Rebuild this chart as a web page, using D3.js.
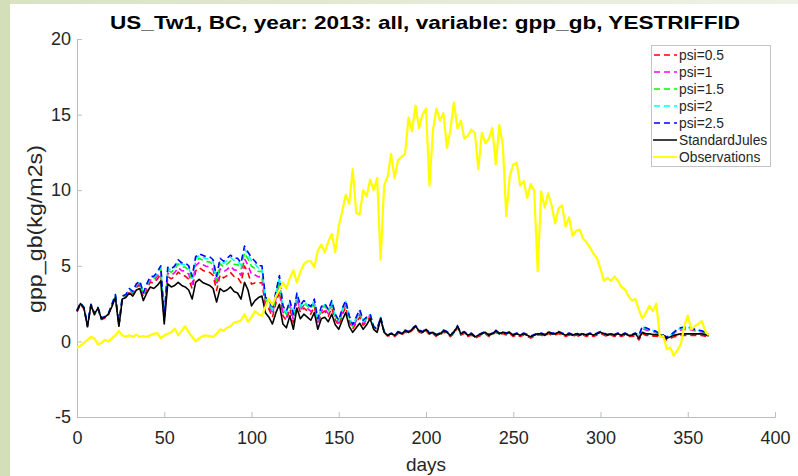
<!DOCTYPE html>
<html>
<head>
<meta charset="utf-8">
<script src="https://cdn.jsdelivr.net/npm/d3@7"></script>
<style>
    body { margin: 0; background: #fff; }
    svg { display: block; font-family: "Liberation Sans", Arial, Helvetica, sans-serif; }
    .tick-label { fill: #262626; font-size: 18px; }
</style>
</head>
<body>
<svg id="chart" width="798" height="476"></svg>
<script>
// day grid, one reading every 2 days
const days = d3.range(0, 363, 2);

const xTicks = [0, 50, 100, 150, 200, 250, 300, 350, 400];
const yTicks = [-5, 0, 5, 10, 15, 20];

const standardJules = [
    2.0, 2.5, 2.2, 1.0, 2.4, 1.8, 2.2, 1.5, 1.6, 1.8,
    2.3, 2.9, 1.0, 2.8, 2.9, 3.2, 3.0, 3.4, 3.5, 2.7,
    3.2, 3.6, 3.5, 3.7, 4.0, 1.15, 3.8, 3.6, 3.7, 3.9,
    3.7, 3.6, 3.4, 2.8, 3.9, 4.1, 3.9, 3.8, 3.7, 3.5,
    2.6, 3.5, 3.3, 3.4, 3.6, 3.3, 3.2, 2.8, 3.9, 3.4,
    2.35, 2.7, 2.9, 3.0, 1.9, 1.6, 1.15, 1.9, 2.45, 1.15,
    0.9, 1.7, 0.8, 2.2, 1.5, 1.8, 1.6, 1.4, 1.9, 0.8,
    1.5, 1.6, 1.3, 1.8, 1.1, 0.8, 1.4, 1.9, 1.0, 0.6,
    0.9, 1.2, 0.8, 1.1, 1.5, 0.8, 0.6, 1.5, 0.6, 0.4,
    0.5, 0.4, 0.6, 0.5, 0.7, 0.6, 0.8, 1.0, 0.7, 0.6,
    0.8, 0.5, 0.6, 0.4, 0.5, 0.7, 0.6, 0.4, 0.6, 1.0,
    0.5, 0.6, 0.4, 0.5, 0.3, 0.4, 0.5, 0.6, 0.4, 0.5,
    0.7, 0.5, 0.6, 0.5, 0.6, 0.4, 0.5, 0.4, 0.5, 0.4,
    0.3, 0.4, 0.5, 0.5, 0.4, 0.6, 0.5, 0.5, 0.6, 0.5,
    0.4, 0.5, 0.4, 0.5, 0.4, 0.5, 0.4, 0.5, 0.4, 0.5,
    0.6, 0.5, 0.4, 0.5, 0.4, 0.5, 0.4, 0.5, 0.4, 0.4,
    0.5, 0.2, 0.6, 0.5, 0.5, 0.45, 0.45, 0.4, 0.4, 0.2,
    0.3, 0.4, 0.45, 0.5, 0.5, 0.5, 0.5, 0.5, 0.5, 0.5,
    0.45, 0.35
];

const psi05 = [
    1.95, 2.45, 2.15, 0.95, 2.35, 1.75, 2.15, 1.45, 1.55, 1.75,
    2.37, 2.99, 1.05, 2.89, 2.99, 3.34, 3.14, 3.58, 3.73, 2.93,
    3.47, 3.92, 3.86, 4.11, 4.45, 1.38, 4.30, 4.14, 4.29, 4.58,
    4.38, 4.32, 4.12, 3.48, 4.67, 4.87, 4.71, 4.61, 4.56, 4.36,
    3.37, 4.40, 4.20, 4.35, 4.55, 4.29, 4.24, 3.88, 4.98, 4.53,
    3.79, 3.87, 3.85, 3.90, 2.35, 2.14, 1.60, 2.53, 3.31, 1.69,
    1.40, 2.15, 1.25, 2.65, 1.91, 2.21, 2.01, 1.81, 2.31, 1.12,
    1.86, 2.01, 1.66, 2.21, 1.42, 1.07, 1.76, 2.26, 1.32, 0.83,
    1.22, 1.61, 1.07, 1.33, 1.64, 0.89, 0.69, 1.55, 0.6, 0.35,
    0.42, 0.32, 0.52, 0.42, 0.62, 0.52, 0.72, 0.92, 0.62, 0.52,
    0.72, 0.42, 0.52, 0.32, 0.42, 0.62, 0.52, 0.32, 0.52, 0.92,
    0.42, 0.52, 0.32, 0.42, 0.22, 0.32, 0.42, 0.52, 0.32, 0.42,
    0.62, 0.42, 0.52, 0.42, 0.52, 0.32, 0.42, 0.32, 0.42, 0.32,
    0.22, 0.32, 0.42, 0.42, 0.32, 0.52, 0.42, 0.42, 0.52, 0.42,
    0.32, 0.42, 0.32, 0.42, 0.32, 0.42, 0.32, 0.42, 0.32, 0.42,
    0.52, 0.42, 0.32, 0.42, 0.32, 0.42, 0.32, 0.42, 0.32, 0.32,
    0.4, 0.1, 0.5, 0.4, 0.4, 0.35, 0.35, 0.3, 0.3, 0.1,
    0.2, 0.3, 0.35, 0.4, 0.4, 0.4, 0.4, 0.4, 0.4, 0.4,
    0.35, 0.25
];

const psi1 = [
    2.02, 2.52, 2.22, 1.02, 2.42, 1.82, 2.22, 1.52, 1.62, 1.82,
    2.40, 3.03, 1.07, 2.93, 3.03, 3.40, 3.20, 3.66, 3.83, 3.03,
    3.59, 4.06, 4.02, 4.29, 4.65, 1.48, 4.52, 4.38, 4.55, 4.88,
    4.68, 4.64, 4.44, 3.78, 5.01, 5.21, 5.07, 4.97, 4.94, 4.74,
    3.71, 4.80, 4.60, 4.77, 4.97, 4.73, 4.70, 4.36, 5.46, 5.03,
    4.43, 4.39, 4.27, 4.30, 2.55, 2.38, 1.80, 2.81, 3.69, 1.93,
    1.62, 2.35, 1.45, 2.85, 2.09, 2.39, 2.19, 1.99, 2.49, 1.26,
    2.02, 2.19, 1.82, 2.39, 1.56, 1.19, 1.92, 2.42, 1.46, 0.93,
    1.36, 1.79, 1.19, 1.43, 1.70, 0.93, 0.73, 1.57, 0.63, 0.4,
    0.5, 0.4, 0.6, 0.5, 0.7, 0.6, 0.8, 1.0, 0.7, 0.6,
    0.8, 0.5, 0.6, 0.4, 0.5, 0.7, 0.6, 0.4, 0.6, 1.0,
    0.5, 0.6, 0.4, 0.5, 0.3, 0.4, 0.5, 0.6, 0.4, 0.5,
    0.7, 0.5, 0.6, 0.5, 0.6, 0.4, 0.5, 0.4, 0.5, 0.4,
    0.3, 0.4, 0.5, 0.5, 0.4, 0.6, 0.5, 0.5, 0.6, 0.5,
    0.4, 0.5, 0.4, 0.5, 0.4, 0.5, 0.4, 0.5, 0.4, 0.5,
    0.6, 0.5, 0.4, 0.5, 0.4, 0.5, 0.4, 0.5, 0.4, 0.4,
    0.53, 0.33, 0.86, 0.76, 0.70, 0.65, 0.58, 0.47, 0.4, 0.27,
    0.37, 0.53, 0.68, 0.76, 0.79, 0.79, 0.76, 0.70, 0.66, 0.63,
    0.55, 0.42
];

const psi15 = [
    2.03, 2.53, 2.23, 1.03, 2.43, 1.83, 2.23, 1.53, 1.63, 1.83,
    2.42, 3.06, 1.08, 2.96, 3.06, 3.45, 3.25, 3.73, 3.91, 3.11,
    3.69, 4.17, 4.16, 4.44, 4.82, 1.56, 4.70, 4.58, 4.77, 5.13,
    4.93, 4.91, 4.71, 4.03, 5.29, 5.49, 5.38, 5.28, 5.26, 5.06,
    3.99, 5.14, 4.94, 5.12, 5.32, 5.10, 5.09, 4.77, 5.87, 5.45,
    4.97, 4.83, 4.62, 4.64, 2.72, 2.58, 1.97, 3.05, 4.01, 2.13,
    1.80, 2.52, 1.62, 3.02, 2.24, 2.54, 2.34, 2.14, 2.64, 1.37,
    2.16, 2.34, 1.96, 2.54, 1.67, 1.29, 2.06, 2.56, 1.57, 1.01,
    1.47, 1.94, 1.29, 1.51, 1.75, 0.96, 0.76, 1.58, 0.64, 0.4,
    0.5, 0.4, 0.6, 0.5, 0.7, 0.6, 0.8, 1.0, 0.7, 0.6,
    0.8, 0.5, 0.6, 0.4, 0.5, 0.7, 0.6, 0.4, 0.6, 1.0,
    0.5, 0.6, 0.4, 0.5, 0.3, 0.4, 0.5, 0.6, 0.4, 0.5,
    0.7, 0.5, 0.6, 0.5, 0.6, 0.4, 0.5, 0.4, 0.5, 0.4,
    0.3, 0.4, 0.5, 0.5, 0.4, 0.6, 0.5, 0.5, 0.6, 0.5,
    0.4, 0.5, 0.4, 0.5, 0.4, 0.5, 0.4, 0.5, 0.4, 0.5,
    0.6, 0.5, 0.4, 0.5, 0.4, 0.5, 0.4, 0.5, 0.4, 0.4,
    0.54, 0.36, 0.93, 0.83, 0.75, 0.70, 0.61, 0.48, 0.4, 0.28,
    0.38, 0.56, 0.74, 0.83, 0.87, 0.87, 0.83, 0.75, 0.71, 0.66,
    0.57, 0.43
];

const psi2 = [
    2.05, 2.55, 2.25, 1.05, 2.45, 1.85, 2.25, 1.55, 1.65, 1.85,
    2.44, 3.09, 1.09, 2.99, 3.09, 3.48, 3.28, 3.77, 3.97, 3.17,
    3.76, 4.25, 4.24, 4.54, 4.93, 1.62, 4.82, 4.72, 4.91, 5.30,
    5.10, 5.09, 4.89, 4.20, 5.48, 5.68, 5.57, 5.47, 5.47, 5.27,
    4.18, 5.36, 5.16, 5.35, 5.55, 5.35, 5.34, 5.03, 6.13, 5.73,
    5.33, 5.12, 4.85, 4.86, 2.83, 2.72, 2.08, 3.20, 4.22, 2.27,
    1.92, 2.63, 1.73, 3.13, 2.34, 2.64, 2.44, 2.24, 2.74, 1.45,
    2.24, 2.44, 2.04, 2.64, 1.75, 1.36, 2.14, 2.64, 1.65, 1.07,
    1.55, 2.04, 1.36, 1.57, 1.78, 0.99, 0.79, 1.59, 0.65, 0.4,
    0.5, 0.4, 0.6, 0.5, 0.7, 0.6, 0.8, 1.0, 0.7, 0.6,
    0.8, 0.5, 0.6, 0.4, 0.5, 0.7, 0.6, 0.4, 0.6, 1.0,
    0.5, 0.6, 0.4, 0.5, 0.3, 0.4, 0.5, 0.6, 0.4, 0.5,
    0.7, 0.5, 0.6, 0.5, 0.6, 0.4, 0.5, 0.4, 0.5, 0.4,
    0.3, 0.4, 0.5, 0.5, 0.4, 0.6, 0.5, 0.5, 0.6, 0.5,
    0.4, 0.5, 0.4, 0.5, 0.4, 0.5, 0.4, 0.5, 0.4, 0.5,
    0.6, 0.5, 0.4, 0.5, 0.4, 0.5, 0.4, 0.5, 0.4, 0.4,
    0.55, 0.39, 0.97, 0.87, 0.78, 0.73, 0.64, 0.49, 0.4, 0.29,
    0.39, 0.59, 0.78, 0.87, 0.92, 0.92, 0.87, 0.78, 0.73, 0.69,
    0.59, 0.44
];

const psi25 = [
    2.05, 2.55, 2.25, 1.05, 2.45, 1.85, 2.25, 1.55, 1.65, 1.85,
    2.45, 3.1, 1.1, 3.0, 3.1, 3.5, 3.3, 3.8, 4.0, 3.2,
    3.8, 4.3, 4.3, 4.6, 5.0, 1.65, 4.9, 4.8, 5.0, 5.4,
    5.2, 5.2, 5.0, 4.3, 5.6, 5.8, 5.7, 5.6, 5.6, 5.4,
    4.3, 5.5, 5.3, 5.5, 5.7, 5.5, 5.5, 5.2, 6.3, 5.9,
    5.55, 5.3, 5.0, 5.0, 2.9, 2.8, 2.15, 3.3, 4.35, 2.35,
    2.0, 2.7, 1.8, 3.2, 2.4, 2.7, 2.5, 2.3, 2.8, 1.5,
    2.3, 2.5, 2.1, 2.7, 1.8, 1.4, 2.2, 2.7, 1.7, 1.1,
    1.6, 2.1, 1.4, 1.6, 1.8, 1.0, 0.8, 1.6, 0.65, 0.4,
    0.55, 0.45, 0.65, 0.55, 0.75, 0.65, 0.85, 1.05, 0.75, 0.65,
    0.85, 0.55, 0.65, 0.45, 0.55, 0.75, 0.65, 0.45, 0.65, 1.05,
    0.55, 0.65, 0.45, 0.55, 0.35, 0.45, 0.55, 0.65, 0.45, 0.55,
    0.75, 0.55, 0.65, 0.55, 0.65, 0.45, 0.55, 0.45, 0.55, 0.45,
    0.35, 0.45, 0.55, 0.55, 0.45, 0.65, 0.55, 0.55, 0.65, 0.55,
    0.45, 0.55, 0.45, 0.55, 0.45, 0.55, 0.45, 0.55, 0.45, 0.55,
    0.65, 0.55, 0.45, 0.55, 0.45, 0.55, 0.45, 0.55, 0.45, 0.45,
    0.55, 0.4, 1.0, 0.9, 0.8, 0.75, 0.65, 0.5, 0.4, 0.3,
    0.4, 0.6, 0.8, 0.9, 0.95, 0.95, 0.9, 0.8, 0.75, 0.7,
    0.6, 0.45
];

const observations = [
    -0.4, -0.3, -0.1, 0.1, 0.3, 0.2, -0.2, -0.1, 0.1, 0.0,
    0.2, 0.4, 0.7, 0.4, 0.3, 0.4, 0.3, 0.45, 0.3, 0.35,
    0.3, 0.4, 0.5, 0.55, 0.2, 0.4, 0.5, 0.6, 0.85, 0.4,
    0.7, 1.0, 0.6, 0.3, 0.0, 0.2, 0.35, 0.4, 0.35, 0.3,
    0.5, 0.8, 0.7, 0.9, 1.0, 1.25, 1.3, 1.4, 1.8, 1.3,
    1.6, 2.0, 1.8, 1.7, 2.3, 2.8, 2.4, 3.0, 3.4, 3.9,
    3.5, 4.2, 4.7, 3.9, 4.6, 5.1, 5.3, 5.3, 4.9, 6.0,
    6.4, 5.9, 6.6, 7.1, 5.9, 7.6, 8.6, 9.7, 9.1, 11.4,
    8.5, 8.4, 10.0, 9.6, 10.7, 10.0, 10.8, 5.4, 10.3, 10.9,
    12.4, 10.8, 12.0, 12.2, 12.4, 14.8, 13.9, 15.6, 14.1, 15.0,
    15.4, 10.3, 14.0, 15.4, 14.6, 15.1, 12.8, 14.0, 15.8, 14.1,
    14.6, 13.4, 13.6, 14.0, 13.8, 11.4, 13.8, 13.1, 13.4, 14.1,
    11.7, 14.3, 13.0, 8.3, 10.9, 11.7, 11.8, 10.3, 10.6, 9.5,
    10.4, 10.0, 4.65, 9.9, 8.85, 9.8, 9.0, 7.8, 8.8, 9.0,
    7.6, 8.2, 7.0, 7.3, 7.4, 6.8, 6.55, 6.2, 5.8, 5.5,
    4.8, 4.0, 4.2, 4.0, 4.3, 4.0, 3.6, 3.45, 3.0, 2.7,
    2.8, 2.1, 1.5, 1.9, 2.35, 2.0, 2.5, 0.3, 0.35, -0.5,
    -0.4, -0.95, -0.6, -0.2, 1.0, 1.7, 0.8, 1.0, 1.15, 1.35,
    0.7, 0.4
];

const seriesNames = ['psi=0.5', 'psi=1', 'psi=1.5', 'psi=2', 'psi=2.5', 'StandardJules', 'Observations'];
const seriesValues = [psi05, psi1, psi15, psi2, psi25, standardJules, observations];
const seriesColors = ['#ff0000', '#ff00ff', '#00ff00', '#00ffff', '#0000ff', '#000000', '#ffff00'];

class LineChart {

    constructor() {
        this.svg = d3.select('#chart');
        this.xScale = d3.scaleLinear().domain([0, 400]).range([77, 775]);
        this.yScale = d3.scaleLinear().domain([-5, 20]).range([417, 39]);
    }

    drawFrame() {
        // greenish slide border on the left and top
        const grad = this.svg.append('defs').append('linearGradient').attr('id', 'topfade');
        grad.append('stop').attr('offset', '0%').attr('stop-color', '#d8e3c2');
        grad.append('stop').attr('offset', '100%').attr('stop-color', '#eef2e6');
        this.svg.append('rect').attr('x', 0).attr('y', 0).attr('width', 798).attr('height', 4).attr('fill', 'url(#topfade)');
        this.svg.append('rect').attr('x', 0).attr('y', 0).attr('width', 10).attr('height', 476).attr('fill', '#d3dfb9');
    }

    drawAxes() {
        // plain hyphen for negatives, like the original
        const fmt = d => String(d);
        const xAxis = this.svg.append('g')
            .attr('transform', 'translate(0,417)')
            .call(d3.axisBottom(this.xScale).tickValues(xTicks).tickFormat(fmt).tickSize(-5).tickPadding(14));
        const yAxis = this.svg.append('g')
            .attr('transform', 'translate(77,0)')
            .call(d3.axisLeft(this.yScale).tickValues(yTicks).tickFormat(fmt).tickSize(-5).tickPadding(6));

        for (const ax of [xAxis, yAxis]) {
            ax.select('.domain').attr('stroke', '#bdbdbd');
            ax.selectAll('.tick line').attr('stroke', '#bdbdbd');
            ax.selectAll('.tick text').attr('class', 'tick-label').attr('font-family', null).attr('font-size', null);
        }
        xAxis.selectAll('.tick text').attr('dy', '0.72em');

        this.svg.append('text')
            .attr('x', 426).attr('y', 471)
            .attr('text-anchor', 'middle')
            .attr('fill', '#262626').attr('font-size', 19)
            .text('days');

        this.svg.append('text')
            .attr('transform', 'translate(42,229) rotate(-90)')
            .attr('text-anchor', 'middle')
            .attr('fill', '#262626').attr('font-size', 20)
            .attr('textLength', 168).attr('lengthAdjust', 'spacingAndGlyphs')
            .text('gpp_gb(kg/m2s)');

        this.svg.append('text')
            .attr('x', 425).attr('y', 29)
            .attr('text-anchor', 'middle')
            .attr('font-weight', 'bold').attr('font-size', 18.5)
            .attr('fill', '#000')
            .attr('textLength', 630).attr('lengthAdjust', 'spacingAndGlyphs')
            .text('US_Tw1, BC, year: 2013: all, variable: gpp_gb, YESTRIFFID');
    }

    drawLines() {
        const line = d3.line()
            .x((d, i) => this.xScale(days[i]))
            .y(d => this.yScale(d));

        const lines = this.svg.append('g');
        seriesValues.forEach((vals, k) => {
            const dashed = k < 5;
            lines.append('path')
                .datum(vals)
                .attr('d', line)
                .attr('fill', 'none')
                .attr('stroke', seriesColors[k])
                .attr('stroke-width', k === 6 ? 2.2 : 1.6)
                .attr('stroke-dasharray', dashed ? '6,4' : null)
                .attr('stroke-linejoin', 'round');
        });
    }

    drawLegend() {
        const legend = this.svg.append('g');
        legend.append('rect')
            .attr('x', 651.5).attr('y', 45.5)
            .attr('width', 119).attr('height', 121)
            .attr('fill', '#fff').attr('stroke', '#c4c4c4');

        seriesNames.forEach((name, k) => {
            const y = 55 + k * 17;
            legend.append('line')
                .attr('x1', 653).attr('x2', 677)
                .attr('y1', y).attr('y2', y)
                .attr('stroke', seriesColors[k])
                .attr('stroke-width', k === 6 ? 1.8 : 1.5)
                .attr('stroke-dasharray', k < 5 ? '6,4' : null)
                .attr('stroke-dashoffset', k < 5 ? -1 : null);
            legend.append('text')
                .attr('x', 679).attr('y', y + 5)
                .attr('font-size', 13.8).attr('fill', '#262626')
                .text(name);
        });
    }
}

const chart = new LineChart();
chart.drawFrame();
chart.drawAxes();
chart.drawLines();
chart.drawLegend();
</script>
</body>
</html>
